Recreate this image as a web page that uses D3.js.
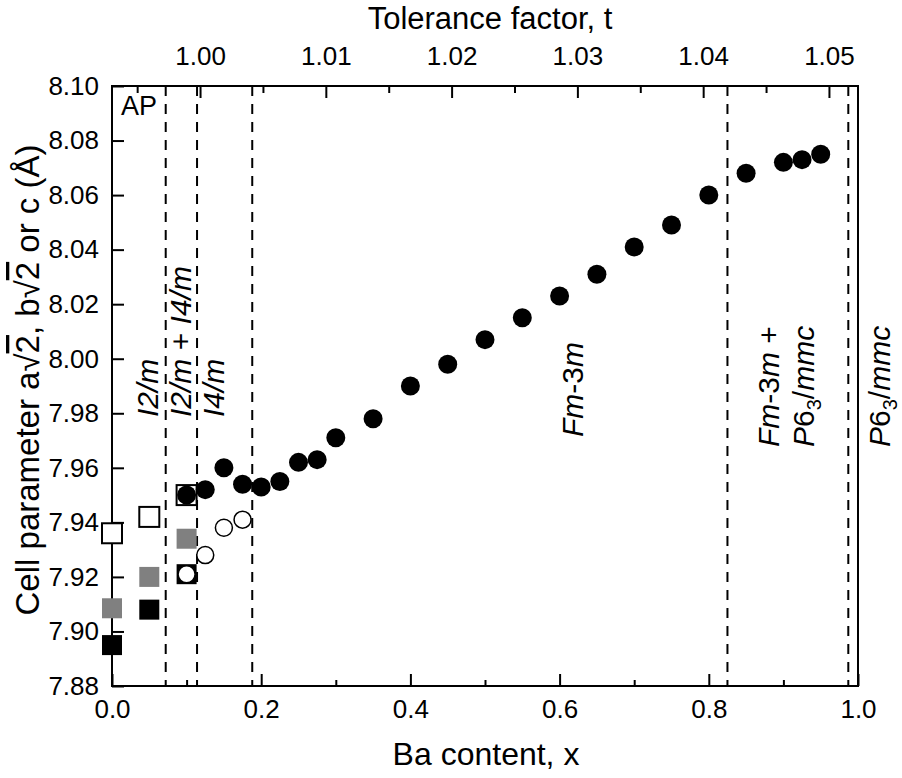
<!DOCTYPE html>
<html>
<head>
<meta charset="utf-8">
<script src="https://cdn.jsdelivr.net/npm/d3@7"></script>
<style>
  body { margin: 0; background: #fff; }
  text { font-family: "Liberation Sans", Arial, sans-serif; fill: #000; }
</style>
</head>
<body>
<div id="chart-area"></div>
<script>
// filled circles
var circX = [0.10, 0.125, 0.15, 0.175, 0.20, 0.225, 0.25, 0.275, 0.30, 0.35, 0.40, 0.45, 0.50, 0.55, 0.60, 0.65, 0.70, 0.75, 0.80, 0.85, 0.90, 0.925, 0.95];
var circY = [7.950, 7.952, 7.960, 7.954, 7.953, 7.955, 7.962, 7.963, 7.971, 7.978, 7.990, 7.998, 8.007, 8.015, 8.023, 8.031, 8.041, 8.049, 8.060, 8.068, 8.072, 8.073, 8.075];
// open circles
var openCircX = [0.10, 0.125, 0.15, 0.175];
var openCircY = [7.921, 7.928, 7.938, 7.941];
// squares (x = 0, 0.05, 0.10)
var sqX = [0, 0.05, 0.10];
var sqBlack = [7.895, 7.908, 7.921];
var sqGray = [7.9085, 7.920, 7.934];
var sqOpen = [7.936, 7.942, 7.950];
// phase boundaries (dashed)
var bounds = [0.072, 0.114, 0.188, 0.825, 0.987];
var yTicks = [7.88, 7.90, 7.92, 7.94, 7.96, 7.98, 8.00, 8.02, 8.04, 8.06, 8.08, 8.10];
var xTicks = [0, 0.2, 0.4, 0.6, 0.8, 1.0];
var xMinor = [0.1, 0.3, 0.5, 0.7, 0.9];
var tTicks = [1.00, 1.01, 1.02, 1.03, 1.04, 1.05];
var tMinor = [0.995, 1.005, 1.015, 1.025, 1.035, 1.045];

var W = 902, H = 778;
var mL = 112, mR = 858, mT = 86, mB = 686;

var svg = d3.select("#chart-area").append("svg")
    .attr("width", W)
    .attr("height", H);

var x = d3.scaleLinear().domain([0, 1]).range([mL, mR]);
var y = d3.scaleLinear().domain([7.88, 8.10]).range([mB, mT]);
var t = d3.scaleLinear().domain([0.993, 1.05231]).range([mL, mR]);

// dashed phase lines
svg.selectAll("line.bound")
    .data(bounds)
    .enter().append("line")
    .attr("class", "bound")
    .attr("x1", d => x(d)).attr("x2", d => x(d))
    .attr("y1", mT).attr("y2", mB)
    .attr("stroke", "#000")
    .attr("stroke-width", 2)
    .attr("stroke-dasharray", "10,8");

// axes
var fs = 26;
var yAxis = svg.append("g").attr("transform", "translate(" + mL + ",0)")
    .call(d3.axisLeft(y).tickValues(yTicks).tickFormat(d3.format(".2f")).tickSize(-12).tickPadding(13));
var xAxis = svg.append("g").attr("transform", "translate(0," + mB + ")")
    .call(d3.axisBottom(x).tickValues(xTicks).tickFormat(d3.format(".1f")).tickSize(-12).tickPadding(14));
var xAxisMinor = svg.append("g").attr("transform", "translate(0," + mB + ")")
    .call(d3.axisBottom(x).tickValues(xMinor).tickFormat("").tickSize(-6));
var tAxis = svg.append("g").attr("transform", "translate(0," + mT + ")")
    .call(d3.axisTop(t).tickValues(tTicks).tickFormat(d3.format(".2f")).tickSize(-12).tickPadding(21));
var tAxisMinor = svg.append("g").attr("transform", "translate(0," + mT + ")")
    .call(d3.axisTop(t).tickValues(tMinor).tickFormat("").tickSize(-7));

[yAxis, xAxis, xAxisMinor, tAxis, tAxisMinor].forEach(g => {
  g.select(".domain").remove();
  g.selectAll("line").attr("stroke-width", 2);
  g.attr("font-size", fs).attr("font-family", "Liberation Sans, Arial, sans-serif");
});

// frame
svg.append("rect")
    .attr("x", mL).attr("y", mT)
    .attr("width", mR - mL).attr("height", mB - mT)
    .attr("fill", "none").attr("stroke", "#000").attr("stroke-width", 2);

// squares
var s = 20;
function squares(vals, fill, stroke) {
  svg.append("g").selectAll("rect")
    .data(sqX.map((d, i) => [d, vals[i]]))
    .enter().append("rect")
    .attr("x", d => x(d[0]) - s / 2)
    .attr("y", d => y(d[1]) - s / 2)
    .attr("width", s).attr("height", s)
    .attr("fill", fill)
    .attr("stroke", stroke)
    .attr("stroke-width", stroke == "none" ? 0 : 2);
}
squares(sqOpen, "#fff", "#000");
squares(sqGray, "#808080", "none");
squares(sqBlack, "#000", "none");

// circles
svg.append("g").selectAll("circle")
    .data(circX.map((d, i) => [d, circY[i]]))
    .enter().append("circle")
    .attr("cx", d => x(d[0])).attr("cy", d => y(d[1]))
    .attr("r", 9.5).attr("fill", "#000");

svg.append("g").selectAll("circle")
    .data(openCircX.map((d, i) => [d, openCircY[i]]))
    .enter().append("circle")
    .attr("cx", d => x(d[0])).attr("cy", d => y(d[1]))
    .attr("r", 8.5).attr("fill", "#fff")
    .attr("stroke", "#000").attr("stroke-width", 1.5);

// axis titles
svg.append("text")
    .attr("x", 490).attr("y", 29)
    .attr("text-anchor", "middle").attr("font-size", 31)
    .text("Tolerance factor, t");
svg.append("text")
    .attr("x", 486).attr("y", 765)
    .attr("text-anchor", "middle").attr("font-size", 32)
    .text("Ba content, x");

var yl = svg.append("text")
    .attr("transform", "translate(39,380) rotate(-90)")
    .attr("text-anchor", "middle").attr("font-size", 33);
yl.append("tspan").text("Cell parameter a\u221A");
yl.append("tspan").attr("text-decoration", "overline").text("2");
yl.append("tspan").text(", b\u221A");
yl.append("tspan").attr("text-decoration", "overline").text("2");
yl.append("tspan").text(" or c (\u00C5)");

svg.append("text")
    .attr("x", 121).attr("y", 115)
    .attr("font-size", 27)
    .text("AP");

// phase labels, rotated
function vlabel(px, py, parts) {
  var txt = svg.append("text")
    .attr("transform", "translate(" + px + "," + py + ") rotate(-90)")
    .attr("font-size", 30);
  parts.forEach(p => {
    var ts = txt.append("tspan").text(p[0]);
    if (p[1]) ts.attr("font-style", "italic");
    if (p[2]) ts.attr("font-size", 20).attr("dy", 7);
    if (p[3]) ts.attr("dy", -7);
  });
}
vlabel(158, 417, [["I2/m", 1]]);
vlabel(191, 417, [["I2/m", 1], [" + ", 0], ["I4/m", 1]]);
vlabel(224, 417, [["I4/m", 1]]);
vlabel(583, 437, [["Fm", 1], ["-3", 0], ["m", 1]]);
vlabel(779, 447, [["Fm", 1], ["-3", 0], ["m", 1], [" +", 0]]);
vlabel(814, 447, [["P", 1], ["6", 0], ["3", 0, 1], ["/", 0, 0, 1], ["mmc", 1]]);
vlabel(890, 447, [["P", 1], ["6", 0], ["3", 0, 1], ["/", 0, 0, 1], ["mmc", 1]]);
</script>
</body>
</html>
